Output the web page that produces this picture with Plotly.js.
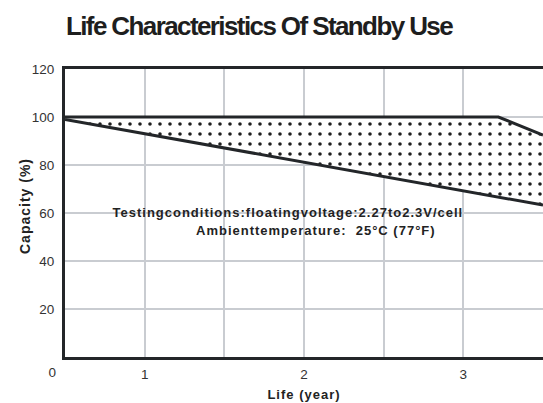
<!DOCTYPE html>
<html>
<head>
<meta charset="utf-8">
<script src="https://cdn.plot.ly/plotly-3.0.1.min.js"></script>
<style>
html,body{margin:0;padding:0;background:#fff;}
#chart .gtitle{letter-spacing:-1.6px;}
#chart .xtitle{letter-spacing:1px;}
#chart .annotation-text{letter-spacing:1px;}
</style>
</head>
<body>
<div id="chart" style="width:543px;height:403px;"></div>
<script>
// Data
const lowerYears = [0.5, 3.5];
const lowerCapacity = [99, 63.3];
const upperYears = [0.5, 3.22, 3.5];
const upperCapacity = [100, 100, 92.5];
const xTickVals = [1, 1.5, 2, 2.5, 3];
const xTickText = ['1', '', '2', '', '3'];
const yTickVals = [20, 40, 60, 80, 100, 120];
const yTickText = ['20', '40', '60', '80', '100', '120'];
const noteLine1 = 'Testingconditions:floatingvoltage:2.27to2.3V/cell';
const noteLine2 = 'Ambienttemperature:  25°C (77°F)';
const yTitle = 'Capacity (%)';

const FONT = '"Liberation Sans", Arial, sans-serif';
const INK = '#232629';

const traces = [
  {
    x: lowerYears, y: lowerCapacity, mode: 'lines', type: 'scatter',
    line: {color: INK, width: 3}, hoverinfo: 'skip', showlegend: false
  },
  {
    x: upperYears, y: upperCapacity, mode: 'lines', type: 'scatter',
    line: {color: INK, width: 3}, fill: 'tonexty', fillcolor: 'white',
    fillpattern: {shape: '.', size: 10, solidity: 0.1, fgcolor: '#1e1e1e', bgcolor: 'white', fillmode: 'replace'},
    hoverinfo: 'skip', showlegend: false
  }
];

function px2paperX(px){ return (px - 65) / 478; }
function px2paperY(py){ return (357.5 - py) / 288; }

const layout = {
  width: 543, height: 403,
  margin: {l: 65, r: 0, t: 69, b: 45.5, pad: 0},
  paper_bgcolor: 'white', plot_bgcolor: 'white',
  title: {
    text: 'Life Characteristics Of Standby Use',
    font: {family: FONT, size: 26, color: '#1e1e1e', weight: 'bold'},
    x: 259 / 543, xanchor: 'center', y: 1 - 26 / 403, yanchor: 'middle'
  },
  xaxis: {
    range: [0.5, 3.5], tickvals: xTickVals, ticktext: xTickText,
    showgrid: true, gridcolor: '#c9ccd1', gridwidth: 2,
    showline: true, mirror: true, linecolor: INK, linewidth: 3,
    zeroline: false, ticks: '', ticklabelstandoff: 3,
    tickfont: {family: FONT, size: 13.5, color: '#333'},
    title: {text: 'Life (year)', font: {family: FONT, size: 13, color: '#222', weight: 'bold'}, standoff: 9}
  },
  yaxis: {
    range: [0, 120], tickvals: yTickVals, ticktext: yTickText,
    showgrid: true, gridcolor: '#c9ccd1', gridwidth: 2,
    showline: true, linecolor: INK, linewidth: 3,
    zeroline: false, ticks: '', ticklabelstandoff: 5,
    tickfont: {family: FONT, size: 13.5, color: '#333'}
  },
  annotations: [
    {text: noteLine1, xref: 'paper', yref: 'paper', x: px2paperX(287.5), y: px2paperY(213),
     xanchor: 'center', yanchor: 'middle', showarrow: false,
     font: {family: FONT, size: 13, color: '#222', weight: 'bold'}},
    {text: noteLine2, xref: 'paper', yref: 'paper', x: px2paperX(316), y: px2paperY(231),
     xanchor: 'center', yanchor: 'middle', showarrow: false,
     font: {family: FONT, size: 13, color: '#222', weight: 'bold'}},
    {text: '0', xref: 'paper', yref: 'paper', x: px2paperX(53), y: px2paperY(373),
     xanchor: 'center', yanchor: 'middle', showarrow: false,
     font: {family: FONT, size: 13.5, color: '#333'}},
    {text: yTitle, xref: 'paper', yref: 'paper', x: px2paperX(25), y: px2paperY(206.5),
     xanchor: 'center', yanchor: 'middle', showarrow: false, textangle: -90,
     font: {family: FONT, size: 14, color: '#222', weight: 'bold'}}
  ]
};

Plotly.newPlot('chart', traces, layout, {displayModeBar: false, staticPlot: true});
</script>
</body>
</html>
